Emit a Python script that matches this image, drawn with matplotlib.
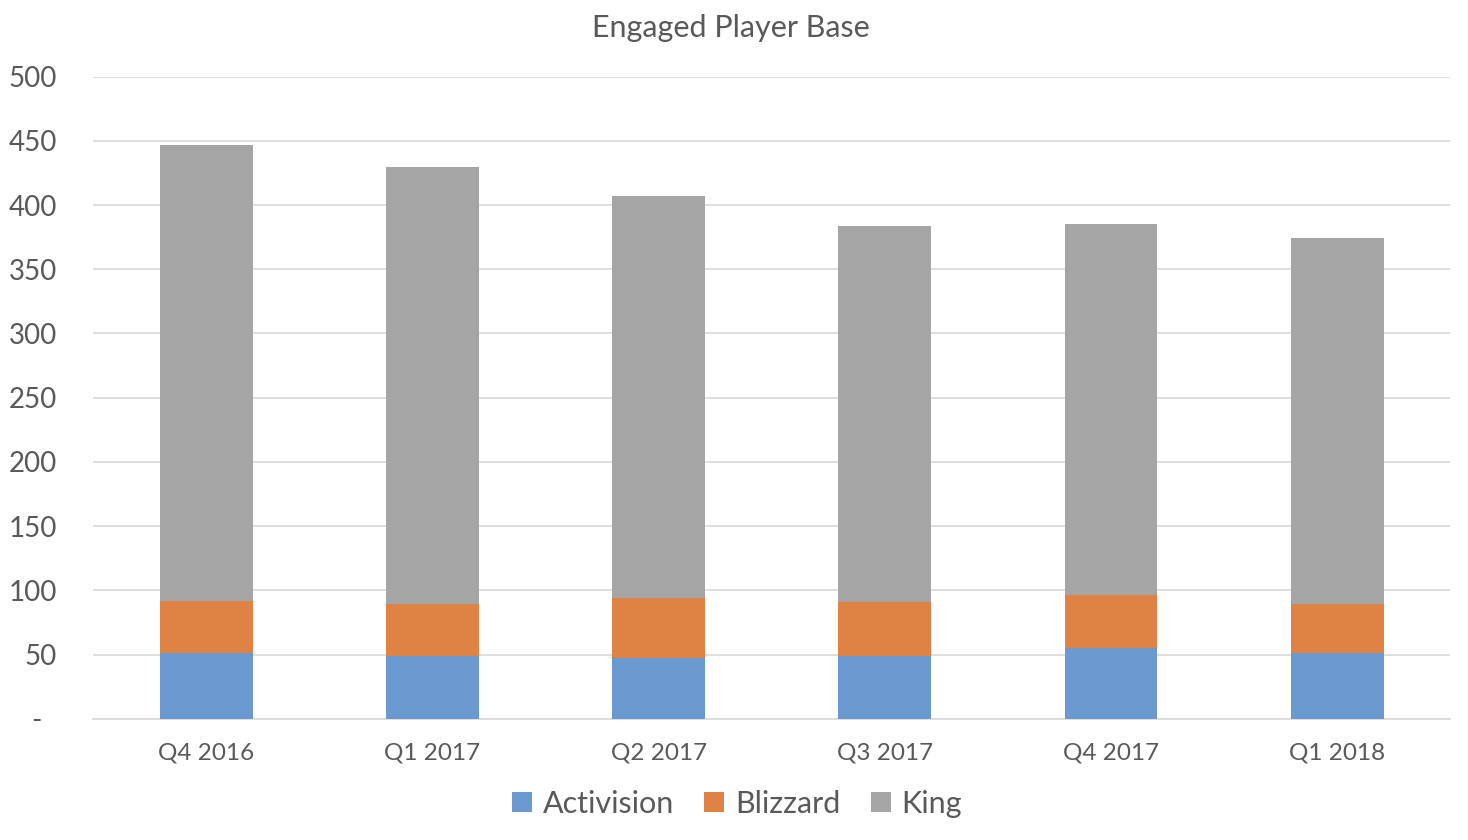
import numpy as np
import matplotlib.pyplot as plt
import matplotlib

matplotlib.rcParams['font.family'] = ['Lato', 'DejaVu Sans']

quarters = ['Q4 2016', 'Q1 2017', 'Q2 2017', 'Q3 2017', 'Q4 2017', 'Q1 2018']
activision = [51, 49, 47, 49, 55, 51]
blizzard = [41, 40, 47, 42, 41, 38]
king = [355, 341, 313, 293, 289, 285]
y_ticks = [0, 50, 100, 150, 200, 250, 300, 350, 400, 450, 500]
y_labels = ['-  ', '50', '100', '150', '200', '250', '300', '350', '400', '450', '500']

txt = '#595959'
grid = '#d9d9d9'

fig = plt.figure(figsize=(14.68, 8.4), dpi=100, facecolor='white')
ax = fig.add_axes([0.0634, 0.1444, 0.9246, 0.7643])

x = np.arange(len(quarters))
w = 0.41
act = np.array(activision)
bli = np.array(blizzard)
ax.bar(x, act, w, color='#6A99D0', label='Activision', zorder=3)
ax.bar(x, bli, w, bottom=act, color='#DE8344', label='Blizzard', zorder=3)
ax.bar(x, king, w, bottom=act + bli, color='#A5A5A5', label='King', zorder=3)

ax.set_xlim(-0.5, len(quarters) - 0.5)
ax.set_ylim(0, 500)
ax.set_yticks(y_ticks)
ax.set_yticklabels(y_labels)
ax.set_xticks(x)
ax.set_xticklabels(quarters)
ax.tick_params(axis='y', length=0, labelsize=20, labelcolor=txt, pad=26)
ax.tick_params(axis='x', length=0, labelsize=17.5, labelcolor=txt, pad=17)
ax.grid(axis='y', color=grid, linewidth=1.2, zorder=0)
for s in ['top', 'right', 'left']:
    ax.spines[s].set_visible(False)
ax.spines['bottom'].set_color(grid)
ax.spines['bottom'].set_linewidth(1.2)

fig.text(0.498, 0.967, 'Engaged Player Base', ha='center', va='center', fontsize=22, color=txt)

leg = fig.legend(loc='center', bbox_to_anchor=(0.502, 0.043), ncol=3, frameon=False,
                 fontsize=22, handlelength=0.65, handleheight=0.65, handletextpad=0.35,
                 columnspacing=1.0)
for t in leg.get_texts():
    t.set_color(txt)

fig.savefig('out.png', dpi=100, facecolor='white')
